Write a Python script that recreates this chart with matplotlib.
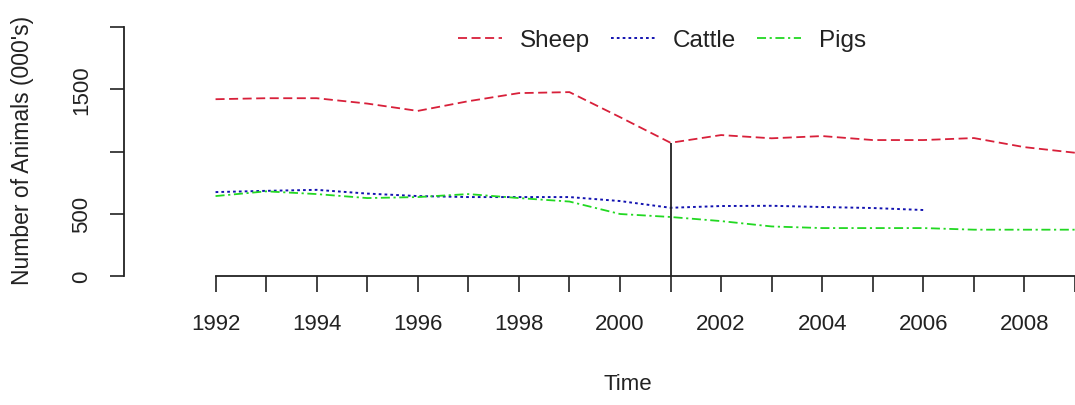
import numpy as np
import matplotlib.pyplot as plt

# values (thousands of animals)
years = [1992, 1993, 1994, 1995, 1996, 1997, 1998, 1999, 2000,
         2001, 2002, 2003, 2004, 2005, 2006, 2007, 2008, 2009]
sheep = [1420, 1428, 1428, 1385, 1326, 1404, 1469, 1477, 1276,
         1070, 1132, 1106, 1124, 1092, 1092, 1108, 1035, 990]
cattle_years = [1992, 1993, 1994, 1995, 1996, 1997, 1998, 1999, 2000,
                2001, 2002, 2003, 2004, 2005, 2006]
cattle = [674, 684, 692, 662, 642, 634, 634, 634, 602,
          548, 562, 564, 554, 546, 530]
pigs = [642, 680, 658, 626, 634, 658, 626, 598, 498,
        474, 441, 398, 385, 385, 385, 372, 372, 372]

ytick_vals = [0, 500, 1000, 1500, 2000]
ytick_labels = ['0', '500', '', '1500', '']
marker_year = 2001

plt.rcParams['font.family'] = ['Liberation Sans', 'DejaVu Sans']

W, H = 1075, 406
fig = plt.figure(figsize=(W / 100, H / 100), dpi=100)
px_per_year = 50.8
x0 = 1992 - (216 - 124) / px_per_year
x1 = 1992 + (1075 - 216) / px_per_year
ax = fig.add_axes([124 / W, (H - 277) / H, (1075 - 124) / W, (277 - 28) / H])
ax.set_xlim(x0, x1)
ax.set_ylim(0, 2000)

l1, = ax.plot(years, sheep, color='#d8203a', lw=1.3, linestyle=(0, (5, 2.5)))
l2, = ax.plot(cattle_years, cattle, color='#1212b0', lw=1.4, linestyle=(0, (1.4, 1.6)))
l3, = ax.plot(years, pigs, color='#22d822', lw=1.3, linestyle=(0, (5, 2, 1.2, 2)))

# vertical marker up to the sheep value
ax.vlines(marker_year, 0, sheep[years.index(marker_year)], color='#222222', lw=1.3)

for s in ['top', 'right']:
    ax.spines[s].set_visible(False)
ax.spines['left'].set_bounds(0, 2000)
ax.spines['bottom'].set_bounds(1992, 2010)
for s in ['left', 'bottom']:
    ax.spines[s].set_linewidth(1.3)
    ax.spines[s].set_color('#222222')

ax.set_xticks(np.arange(1992, 2010))
ax.set_xticklabels([str(y) if y % 2 == 0 else '' for y in range(1992, 2010)])
ax.set_yticks(ytick_vals)
ax.set_yticklabels(ytick_labels, rotation=90, va='center')
ax.tick_params(axis='x', length=11.5, width=1.2, pad=15, labelsize=16,
               color='#222222', labelcolor='#222222')
ax.tick_params(axis='y', length=10, width=1.2, pad=13, labelsize=16,
               color='#222222', labelcolor='#222222')

fig.text(23 / W, 1 - 150 / H, "Number of Animals (000's)", rotation=90,
         ha='center', va='center', fontsize=16.5, color='#222222')
fig.text(628 / W, 1 - 385 / H, 'Time', ha='center', va='center', fontsize=16,
         color='#222222')

leg = fig.legend([l1, l2, l3], ['Sheep', 'Cattle', 'Pigs'], ncol=3, frameon=False,
                 loc='center', bbox_to_anchor=(662 / W, 1 - 41 / H), fontsize=17.5,
                 handlelength=1.8, handletextpad=0.75, columnspacing=0.85)
for t in leg.get_texts():
    t.set_color('#222222')

fig.savefig('out.png', dpi=100)
